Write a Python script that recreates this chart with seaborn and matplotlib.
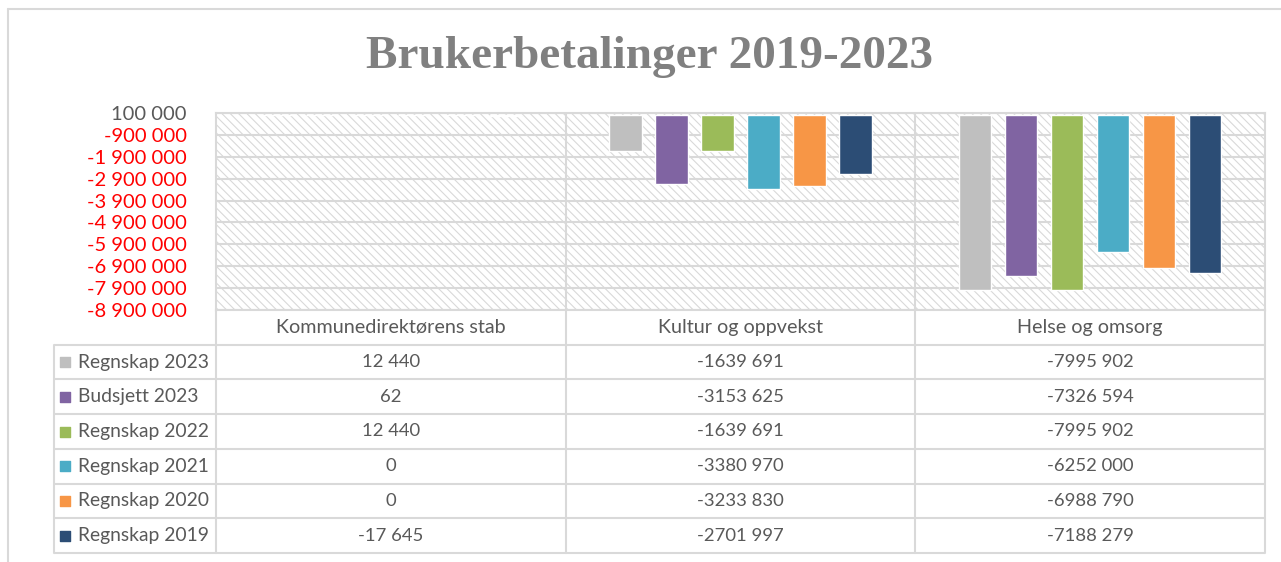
import numpy as np
import pandas as pd
import matplotlib
matplotlib.use("Agg")
import matplotlib.pyplot as plt
from matplotlib.patches import Rectangle
from matplotlib.lines import Line2D
import seaborn as sns

# ---------------- data ----------------
categories = ["Kommunedirektørens stab", "Kultur og oppvekst", "Helse og omsorg"]
series = ["Regnskap 2023", "Budsjett 2023", "Regnskap 2022",
          "Regnskap 2021", "Regnskap 2020", "Regnskap 2019"]
regnskap_2023 = [12440, -1639691, -7995902]
budsjett_2023 = [62, -3153625, -7326594]
regnskap_2022 = [12440, -1639691, -7995902]
regnskap_2021 = [0, -3380970, -6252000]
regnskap_2020 = [0, -3233830, -6988790]
regnskap_2019 = [-17645, -2701997, -7188279]
series_values = [regnskap_2023, budsjett_2023, regnskap_2022,
                 regnskap_2021, regnskap_2020, regnskap_2019]
colors = ["#BFBFBF", "#8064A2", "#9BBB59", "#4BACC6", "#F79646", "#2C4D75"]
y_ticks = [100000 - 1000000 * k for k in range(10)]
title = "Brukerbetalinger 2019-2023"

rows = []
for s, vals in zip(series, series_values):
    for c, v in zip(categories, vals):
        rows.append({"Kategori": c, "Serie": s, "Verdi": v})
df = pd.DataFrame(rows)

# ---------------- style ----------------
sns.set_style("white")
plt.rcParams["font.family"] = ["Lato", "DejaVu Sans"]
plt.rcParams["hatch.linewidth"] = 0.8

GRID = "#D9D9D9"
TXT = "#595959"
W, H = 1281, 562
fig = plt.figure(figsize=(W / 100, H / 100), dpi=100)

def fy(py):
    return 1 - py / H

# outer frame lines
fig.add_artist(Line2D([8 / W, 8 / W], [fy(9), 0], color=GRID, lw=1.5))
fig.add_artist(Line2D([8 / W, 1], [fy(9), fy(9)], color=GRID, lw=1.5))

fig.text(650 / W, fy(57), title, ha="center", va="center",
         fontsize=34, fontweight="bold", color="#808080",
         family=["Liberation Serif", "DejaVu Serif"])

# ---------------- bar plot ----------------
x0, x1, ytop, ybot = 216, 1265, 113, 310
ax = fig.add_axes([x0 / W, fy(ybot), (x1 - x0) / W, (ybot - ytop) / H])
ax.add_patch(Rectangle((0, 0), 1, 1, transform=ax.transAxes, facecolor="white",
                       edgecolor=GRID, hatch="\\\\\\\\", linewidth=0, zorder=0))
sns.barplot(data=df, x="Kategori", y="Verdi", hue="Serie", order=categories,
            hue_order=series, palette=colors, saturation=1, width=0.79, gap=0.3,
            errorbar=None, legend=False, ax=ax, zorder=3)
ax.set_xlim(-0.5, 2.5)
ax.set_ylim(y_ticks[-1], y_ticks[0])
ax.set_yticks(y_ticks)
ax.set_yticklabels([f"{v:,.0f}".replace(",", " ") for v in y_ticks])
for i, lab in enumerate(ax.get_yticklabels()):
    lab.set_color(TXT if i == 0 else "#FF0000")
ax.tick_params(axis="y", length=0, pad=21, labelsize=14.5)
ax.set_xticks([])
ax.set_xlabel("")
ax.set_ylabel("")
ax.set_axisbelow(True)
ax.yaxis.grid(True, color=GRID, lw=1.5, zorder=1)
for xv in [0.5, 1.5]:
    ax.axvline(xv, color=GRID, lw=1.5, zorder=1)
for sp in ax.spines.values():
    sp.set_color(GRID)
    sp.set_linewidth(1.5)

# ---------------- data table ----------------
tx0, tyb = 54, 553
ncol_px = (x1 - x0) / 3
xl = -0.5 - (x0 - tx0) / ncol_px
tab = fig.add_axes([tx0 / W, fy(tyb), (x1 - tx0) / W, (tyb - ybot) / H])
tab.set_xlim(xl, 2.5)
tab.set_ylim(7, 0)
tab.axis("off")

for r in range(1, 8):
    tab.plot([xl, 2.5], [r, r], color=GRID, lw=1.5, solid_capstyle="butt", clip_on=False)
tab.plot([xl, xl], [1, 7], color=GRID, lw=1.5, clip_on=False)
for xv in [-0.5, 0.5, 1.5, 2.5]:
    tab.plot([xv, xv], [0, 7], color=GRID, lw=1.5, clip_on=False)

def fmt_table(v):
    s = str(abs(int(v)))
    if len(s) > 3:
        s = s[:-3] + " " + s[-3:]
    return ("-" if v < 0 else "") + s

for j, c in enumerate(categories):
    tab.text(j, 0.5, c, ha="center", va="center", fontsize=14.2, color=TXT)
mx = xl + 11 / ncol_px
tx = xl + 24 / ncol_px
for i, (s, vals, col) in enumerate(zip(series, series_values, colors)):
    yc = i + 1.5
    tab.scatter([mx], [yc], marker="s", s=60, color=col, clip_on=False)
    tab.text(tx, yc, s, ha="left", va="center", fontsize=13.9, color=TXT)
    for j, v in enumerate(vals):
        tab.text(j, yc, fmt_table(v), ha="center", va="center", fontsize=13.3, color=TXT)

fig.savefig("out.png", dpi=100)
